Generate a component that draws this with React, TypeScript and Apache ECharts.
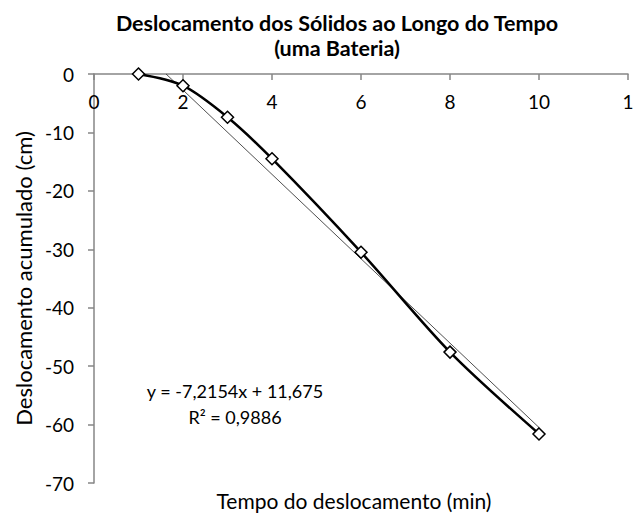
import React, { useEffect, useRef } from "react";
import * as echarts from "echarts";

const timeMin = [1, 2, 3, 4, 6, 8, 10];
const displacement = [0, -2, -7.4, -14.5, -30.5, -47.6, -61.6];
const trendX = [1.62, 10];
const trendY = [0, -60.5];
const xTicks = [0, 2, 4, 6, 8, 10, 12];
const titleLines = ["Deslocamento dos Sólidos ao Longo do Tempo", "(uma Bateria)"];
const equationText = "y = -7,2154x + 11,675";
const r2Text = "R² = 0,9886";
const xTitle = "Tempo do deslocamento (min)";
const yTitle = "Deslocamento acumulado (cm)";

const FONT = "Lato";

export default function App() {
  const ref = useRef<HTMLDivElement>(null);
  useEffect(() => {
    if (!ref.current) return;
    const chart = echarts.init(ref.current, null, { renderer: "svg" });
    const axisColor = "#868686";
    chart.setOption({
      animation: false,
      backgroundColor: "#ffffff",
      grid: { left: 94, right: 9, top: 74, bottom: 30, containLabel: false },
      xAxis: {
        type: "value",
        min: 0,
        max: 12,
        interval: 2,
        position: "top",
        axisLine: { onZero: false, lineStyle: { color: axisColor, width: 1.5 } },
        axisTick: { show: true, inside: true, length: 6, lineStyle: { color: axisColor, width: 1.5 } },
        axisLabel: {
          inside: true,
          margin: 18,
          color: "#000",
          fontFamily: FONT,
          fontSize: 19,
          formatter: (v: number) => (v === xTicks[xTicks.length - 1] ? "1" : String(v)),
        },
        splitLine: { show: false },
      },
      yAxis: {
        type: "value",
        min: -70,
        max: 0,
        interval: 10,
        axisLine: { show: true, onZero: false, lineStyle: { color: axisColor, width: 1.5 } },
        axisTick: { show: true, length: 6, lineStyle: { color: axisColor, width: 1.5 } },
        axisLabel: { margin: 20, color: "#000", fontFamily: FONT, fontSize: 19 },
        splitLine: { show: false },
        name: yTitle,
        nameLocation: "middle",
        nameGap: 58,
        nameTextStyle: { color: "#000", fontFamily: FONT, fontSize: 22 },
      },
      series: [
        {
          type: "line",
          data: trendX.map((x, i) => [x, trendY[i]]),
          symbol: "none",
          lineStyle: { color: "#222", width: 0.8 },
          z: 1,
        },
        {
          type: "line",
          data: timeMin.map((x, i) => [x, displacement[i]]),
          smooth: 0.3,
          symbol: "diamond",
          symbolSize: 12,
          showAllSymbol: true,
          itemStyle: { color: "#ffffff", borderColor: "#000", borderWidth: 1.5 },
          lineStyle: { color: "#000", width: 2.5 },
          z: 3,
        },
      ],
      graphic: [
        {
          type: "text",
          x: 337,
          y: 10,
          style: {
            text: titleLines.join("\n"),
            fontFamily: FONT,
            fontWeight: "bold",
            fontSize: 21.5,
            lineHeight: 25,
            fill: "#000",
            align: "center",
            verticalAlign: "top",
          },
        },
        {
          type: "text",
          x: 235,
          y: 391,
          style: { text: equationText, fontFamily: FONT, fontSize: 18, fill: "#000", align: "center", verticalAlign: "middle" },
        },
        {
          type: "text",
          x: 235,
          y: 417,
          style: { text: r2Text, fontFamily: FONT, fontSize: 18, fill: "#000", align: "center", verticalAlign: "middle" },
        },
        {
          type: "text",
          x: 354,
          y: 500,
          style: { text: xTitle, fontFamily: FONT, fontSize: 21, fill: "#000", align: "center", verticalAlign: "middle" },
        },
      ],
    });
    return () => chart.dispose();
  }, []);
  return <div ref={ref} style={{ position: "fixed", left: 0, top: 0, width: 637, height: 513 }} />;
}
